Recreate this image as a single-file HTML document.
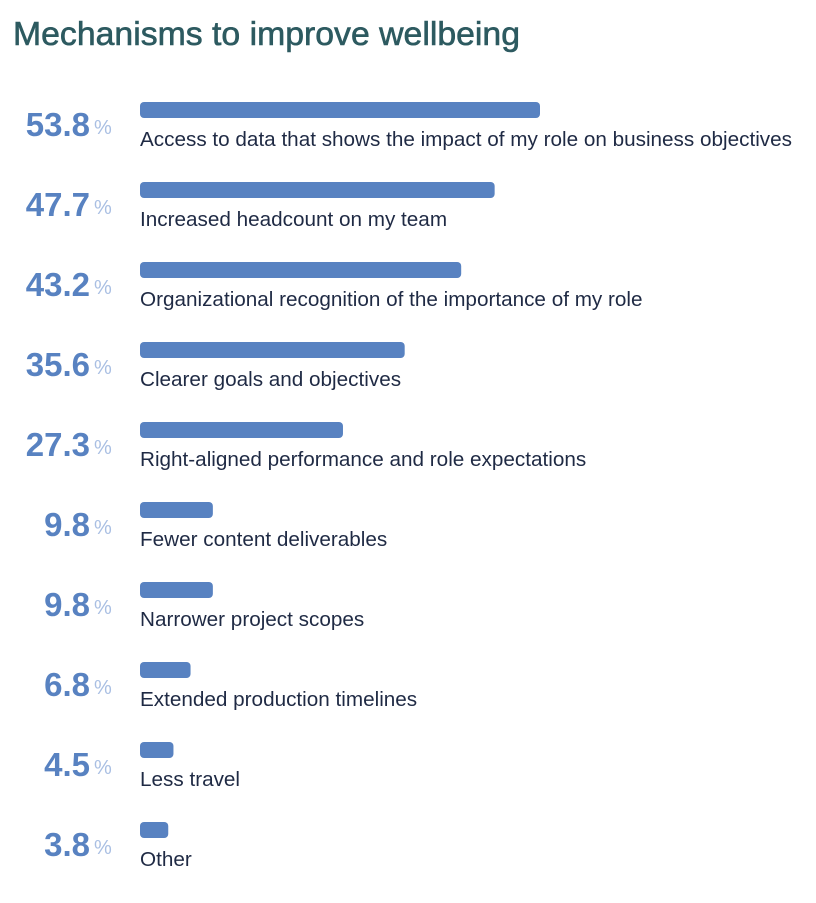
<!DOCTYPE html>
<html><head><meta charset="utf-8"><style>
body{margin:0;background:#fff;width:816px;height:898px;overflow:hidden;font-family:"Liberation Sans",sans-serif}
</style></head><body>
<svg id="chart" width="816" height="898" xmlns="http://www.w3.org/2000/svg">
<text x="13" y="45" font-size="33.5" fill="#2d5a60" stroke="#2d5a60" stroke-width="0.6" font-family="Liberation Sans, sans-serif" textLength="507" lengthAdjust="spacingAndGlyphs">Mechanisms to improve wellbeing</text>
<g id="rows"></g>
</svg>
<script>
const categories=["Access to data that shows the impact of my role on business objectives","Increased headcount on my team","Organizational recognition of the importance of my role","Clearer goals and objectives","Right-aligned performance and role expectations","Fewer content deliverables","Narrower project scopes","Extended production timelines","Less travel","Other"];
const values=[53.8,47.7,43.2,35.6,27.3,9.8,9.8,6.8,4.5,3.8];
const labels=["53.8","47.7","43.2","35.6","27.3","9.8","9.8","6.8","4.5","3.8"];
const NS="http://www.w3.org/2000/svg";
const x=v=>v*(400/53.8);
const y=i=>102+i*80;
const g=document.getElementById('rows');
function mk(t,a,txt){const e=document.createElementNS(NS,t);for(const k in a)e.setAttribute(k,a[k]);if(txt!==undefined)e.textContent=txt;g.appendChild(e);return e;}
categories.forEach((c,i)=>{
 const b=mk('rect',{x:140,y:y(i),width:x(values[i]),height:16,rx:4,fill:'#5882c1'});
 
 
 const n=mk('text',{x:90,y:y(i)+34,'text-anchor':'end','font-size':33,'font-weight':'bold',fill:'#5882c1'},labels[i]);
 
 
 const p=mk('text',{x:94,y:y(i)+32,'font-size':20,fill:'#a9bfe3'},'%');
 
 
 const l=mk('text',{x:140,y:y(i)+44,'font-size':20.7,fill:'#1f2a44'},c);
 
 
});
</script>
</body></html>
